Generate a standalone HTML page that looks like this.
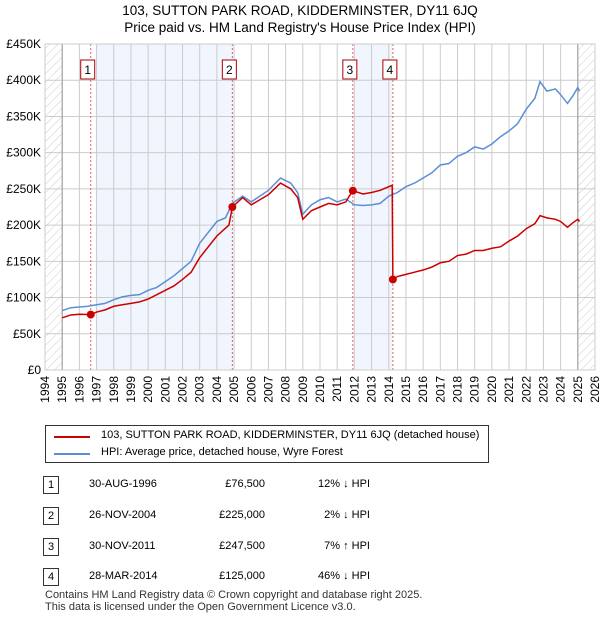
<!DOCTYPE html>
<html><head><meta charset="utf-8">
<style>
body{margin:0;background:#fff;font-family:"Liberation Sans","DejaVu Sans",sans-serif;}
#wrap{position:relative;width:600px;height:620px;overflow:hidden;}
.t{position:absolute;font-size:12px;color:#000;white-space:nowrap}
</style></head><body>
<div id="wrap">
<svg id="c" width="600" height="620" style="position:absolute;left:0;top:0">
<defs><pattern id="h" width="6" height="6" patternUnits="userSpaceOnUse" patternTransform="rotate(45)"><line x1="0" y1="0" x2="0" y2="6" stroke="#ccc" stroke-width="1"/></pattern></defs>
<text x="300" y="15" text-anchor="middle" font-size="13.5" font-family="Liberation Sans,DejaVu Sans,sans-serif">103, SUTTON PARK ROAD, KIDDERMINSTER, DY11 6JQ</text>
<text x="300" y="32" text-anchor="middle" font-size="13.5" font-family="Liberation Sans,DejaVu Sans,sans-serif">Price paid vs. HM Land Registry's House Price Index (HPI)</text>
<g id="g"></g>
</svg>
<div style="position:absolute;left:45px;top:425px;width:442px;height:36px;border:1px solid #333;">
<div style="position:absolute;left:8px;top:10px;width:36px;height:2px;background:#cc0000"></div>
<div class="t" style="left:55px;top:3px;font-size:11px">103, SUTTON PARK ROAD, KIDDERMINSTER, DY11 6JQ (detached house)</div>
<div style="position:absolute;left:8px;top:27px;width:36px;height:2px;background:#5b8fd4"></div>
<div class="t" style="left:55px;top:20px;font-size:11px">HPI: Average price, detached house, Wyre Forest</div>
</div>
<div id="tbl"></div>
<div class="t" style="left:45px;top:589px;font-size:11px;color:#333">Contains HM Land Registry data © Crown copyright and database right 2025.</div>
<div class="t" style="left:45px;top:601px;font-size:11px;color:#333">This data is licensed under the Open Government Licence v3.0.</div>
</div>
<script>
const hpiDates=[1995.0,1995.5,1996,1996.5,1997,1997.5,1998,1998.5,1999,1999.5,2000,2000.5,2001,2001.5,2002,2002.5,2003,2003.5,2004,2004.5,2004.9,2005.5,2006,2006.5,2007,2007.7,2008.3,2008.7,2009.0,2009.5,2010,2010.5,2011,2011.5,2012,2012.5,2013,2013.5,2014,2014.5,2015,2015.5,2016,2016.5,2017,2017.5,2018,2018.5,2019,2019.5,2020,2020.5,2021,2021.5,2022,2022.5,2022.8,2023.2,2023.7,2024,2024.4,2024.7,2025,2025.1];
const hpiValues=[82,86,87,88,90,92,97,101,103,104,110,114,122,130,140,150,175,190,205,210,230,240,232,240,248,265,258,245,215,228,235,238,232,236,228,227,228,230,240,245,253,258,265,272,283,285,295,300,308,305,312,322,330,340,360,375,398,385,388,380,368,378,390,385];
const ppDates=[1995.0,1995.5,1996,1996.66,1997,1997.5,1998,1998.5,1999,1999.5,2000,2000.5,2001,2001.5,2002,2002.5,2003,2003.5,2004,2004.7,2004.9,2005.5,2006,2006.5,2007,2007.7,2008.3,2008.7,2009.0,2009.5,2010,2010.5,2011,2011.5,2011.9,2012.5,2013,2013.5,2014.2,2014.24,2014.5,2015,2015.5,2016,2016.5,2017,2017.5,2018,2018.5,2019,2019.5,2020,2020.5,2021,2021.5,2022,2022.5,2022.8,2023.2,2023.7,2024,2024.4,2024.7,2025,2025.1];
const ppValues=[72,76,77,76.5,80,83,88,90,92,94,98,104,110,116,125,135,155,170,185,200,225,238,228,235,242,258,250,238,208,220,225,230,228,232,247.5,243,245,248,255,125,129,132,135,138,142,148,150,158,160,165,165,168,170,178,185,195,202,213,210,208,205,197,203,208,205];
const saleLabels=["1","2","3","4"];
const saleDates=[1996.66,2004.9,2011.91,2014.24];
const salePrices=[76.5,225,247.5,125];
const saleDateText=["30-AUG-1996","26-NOV-2004","30-NOV-2011","28-MAR-2014"];
const salePriceText=["£76,500","£225,000","£247,500","£125,000"];
const saleHpiText=["12% ↓ HPI","2% ↓ HPI","7% ↑ HPI","46% ↓ HPI"];
const yTicks=[0,50,100,150,200,250,300,350,400,450];
const yTickLabels=["£0","£50K","£100K","£150K","£200K","£250K","£300K","£350K","£400K","£450K"];
const xYears=[];for(let y=1994;y<=2026;y++)xYears.push(y);

const X0=45,X1=595,Y0=370,Y1=44;
const xs=d=>X0+(d-1994)/(2026-1994)*(X1-X0);
const ys=v=>Y0-v/450*(Y0-Y1);
const NS="http://www.w3.org/2000/svg";
const g=document.getElementById('g');
function mk(tag,attrs,parent){const e=document.createElementNS(NS,tag);for(const k in attrs)e.setAttribute(k,attrs[k]);(parent||g).appendChild(e);return e;}
let e;
e=mk('rect',{x:xs(1997),y:Y1,width:xs(2005)-xs(1997),height:Y0-Y1,fill:'#eef3fd',opacity:0.8});

e=mk('rect',{x:xs(2012),y:Y1,width:xs(2014.2)-xs(2012),height:Y0-Y1,fill:'#eef3fd',opacity:0.8});

e=mk('rect',{x:X0,y:Y1,width:xs(1995)-X0,height:Y0-Y1,fill:'url(#h)'});

e=mk('rect',{x:xs(2025),y:Y1,width:X1-xs(2025),height:Y0-Y1,fill:'url(#h)'});

xYears.forEach(y=>{e=mk('line',{x1:xs(y),x2:xs(y),y1:Y1,y2:Y0,stroke:'#ccc','stroke-width':1});

e=mk('text',{x:0,y:0,'font-size':12,'text-anchor':'end',transform:`translate(${xs(y)+4},${Y0+6}) rotate(-90)`,'font-family':'Liberation Sans,DejaVu Sans,sans-serif'});e.textContent=y;
});
yTicks.forEach((v,i)=>{e=mk('line',{x1:X0,x2:X1,y1:ys(v),y2:ys(v),stroke:'#ccc','stroke-width':1});

e=mk('text',{x:X0-4,y:ys(v)+4,'font-size':12,'text-anchor':'end','font-family':'Liberation Sans,DejaVu Sans,sans-serif'});e.textContent=yTickLabels[i];
});
e=mk('line',{x1:xs(1995),x2:xs(1995),y1:Y1,y2:Y0,stroke:'#999'});
e=mk('line',{x1:xs(2025),x2:xs(2025),y1:Y1,y2:Y0,stroke:'#999'});
saleDates.forEach((d,i)=>{e=mk('line',{x1:xs(d),x2:xs(d),y1:Y1,y2:Y0,stroke:'#e06060','stroke-dasharray':'2,2'});
});
e=mk('polyline',{points:hpiDates.map((d,i)=>xs(d)+','+ys(hpiValues[i])).join(' '),fill:'none',stroke:'#5b8fd4','stroke-width':1.5});

e=mk('polyline',{points:ppDates.map((d,i)=>xs(d)+','+ys(ppValues[i])).join(' '),fill:'none',stroke:'#cc0000','stroke-width':1.5});

saleDates.forEach((d,i)=>{e=mk('circle',{cx:xs(d),cy:ys(salePrices[i]),r:4,fill:'#cc0000'});

e=mk('rect',{x:xs(d)-10,y:60,width:14,height:19,fill:'#fff',stroke:'#aa0000'});

e=mk('text',{x:xs(d)-3,y:74,'font-size':12,'text-anchor':'middle','font-family':'Liberation Sans,DejaVu Sans,sans-serif'});e.textContent=saleLabels[i];
});
e=mk('rect',{x:X0,y:Y1,width:X1-X0,height:Y0-Y1,fill:'none',stroke:'#ccc'});


const tbl=document.getElementById('tbl');
const rowY=[476,507,538,568];
saleLabels.forEach((l,i)=>{const y=rowY[i];
let d=document.createElement('div');d.className='t';d.style.cssText=`left:43px;top:${y}px;width:14px;height:16px;border:1px solid #333;text-align:center;font-size:11px;line-height:16px`;d.textContent=l;
tbl.appendChild(d);
d=document.createElement('div');d.className='t';d.style.cssText=`left:89px;top:${y+2}px;font-size:11px`;d.textContent=saleDateText[i];
tbl.appendChild(d);
d=document.createElement('div');d.className='t';d.style.cssText=`right:335px;top:${y+2}px;font-size:11px`;d.textContent=salePriceText[i];
tbl.appendChild(d);
d=document.createElement('div');d.className='t';d.style.cssText=`right:230px;top:${y+2}px;font-size:11px`;d.textContent=saleHpiText[i];
tbl.appendChild(d);});
</script>
</body></html>
